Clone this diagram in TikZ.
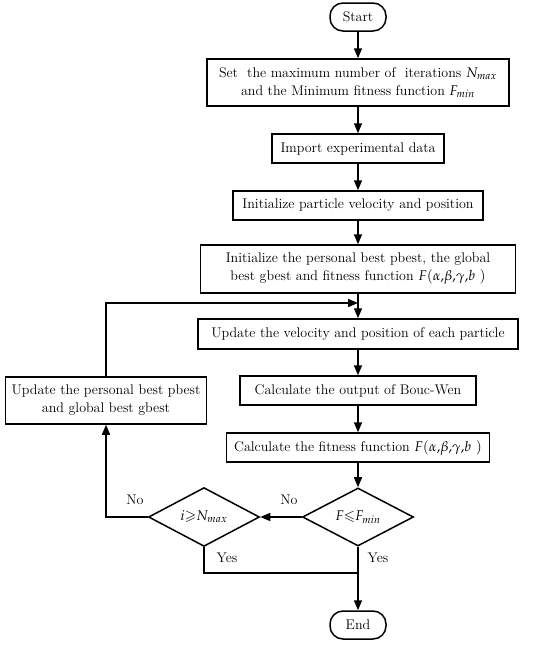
\documentclass[tikz,border=0pt]{standalone}
\usepackage{mathpazo}
\usepackage{amssymb}
\usetikzlibrary{shapes.geometric,arrows.meta}
\begin{document}
\begin{tikzpicture}[x=1pt,y=-1pt,
    every node/.style={font=\fontsize{14}{18}\selectfont},
    box/.style={draw,line width=1.5pt,align=center,inner sep=0pt},
    term/.style={draw,line width=1.5pt,rounded corners=13pt,
      minimum width=56pt,minimum height=28pt,inner sep=0pt},
    cond/.style={draw,diamond,line width=1.5pt,minimum width=111pt,
      minimum height=56pt,inner sep=0pt},
    arr/.style={line width=1.5pt,-{Triangle[length=10pt,width=8pt]}},
    ln/.style={line width=1.5pt}]
  \useasboundingbox (0,0) rectangle (550,645);

  \node[term] (start) at (358,17) {Start};
  \node[box,minimum width=302pt,minimum height=47pt] (set) at (358,82.5)
    {Set\ \ the maximum number of\ \ iterations $N_{max}$\\
     and the Minimum fitness function $F_{min}$};
  \node[box,minimum width=172pt,minimum height=29pt] (import) at (358,148.5)
    {Import experimental data};
  \node[box,minimum width=250pt,minimum height=29pt] (initp) at (358,205.5)
    {Initialize particle velocity and position};
  \node[box,minimum width=315pt,minimum height=48pt] (initb) at (358,269)
    {Initialize the personal best pbest, the global\\
     best gbest and fitness function $F(\alpha{,}\beta{,}\gamma{,}b\ )$};
  \node[box,minimum width=320pt,minimum height=30pt] (upd) at (358,334)
    {Update the velocity and position of each particle};
  \node[box,minimum width=236pt,minimum height=29pt] (calc) at (358,390.5)
    {Calculate the output of Bouc-Wen};
  \node[box,minimum width=201pt,minimum height=47pt] (updb) at (106,400.5)
    {Update the personal best pbest\\ and global best gbest};
  \node[box,minimum width=263pt,minimum height=29pt] (fit) at (358,447.5)
    {Calculate the fitness function $F(\alpha{,}\beta{,}\gamma{,}b\ )$};
  \node[cond] (dF) at (358,517) {$F{\leqslant}F_{min}$};
  \node[cond] (dN) at (204,517) {$i{\geqslant}N_{max}$};
  \node[term] (end) at (358,625) {End};

  \coordinate (jn) at (358,303);
  \coordinate (mg) at (358,573);

  \draw[arr] (start) -- (set);
  \draw[arr] (set) -- (import);
  \draw[arr] (import) -- (initp);
  \draw[arr] (initp) -- (initb);
  \draw[arr] (initb) -- (upd);
  \draw[arr] (upd) -- (calc);
  \draw[arr] (calc) -- (fit);
  \draw[arr] (fit) -- (dF);
  \draw[arr] (dF) -- (dN);
  \draw[arr] (dF) -- (end);
  \draw[arr] (dN.west) -| (updb.south);
  \draw[arr] (updb.north) |- (jn);
  \draw[ln] (dN.south) |- (mg);

  \node (no1) at (289,500) {No};
  \node (no2) at (135,500) {No};
  \node (yes1) at (227,558) {Yes};
  \node (yes2) at (378,558) {Yes};
\end{tikzpicture}
\end{document}
